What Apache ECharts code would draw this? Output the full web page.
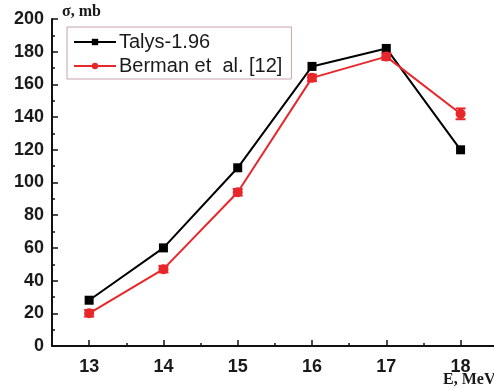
<!DOCTYPE html>
<html>
<head>
<meta charset="utf-8">
<script src="https://cdn.jsdelivr.net/npm/echarts@6/dist/echarts.min.js"></script>
<style>html,body{margin:0;padding:0;background:#fff}#c{width:494px;height:389px}</style>
</head>
<body>
<div id="c"></div>
<script>
var energies = [13, 14, 15, 16, 17, 18];
var talys = [28, 60, 109, 171, 182, 120];
var berman = [20, 47, 94, 164, 177, 142];
var bermanErr = [2, 2, 2, 2, 2, 3.3];
var xMajorTicks = [13, 14, 15, 16, 17, 18];
var xMinorTicks = [13.5, 14.5, 15.5, 16.5, 17.5];

var chart = echarts.init(document.getElementById('c'));
var axisCol = '#111';
var labelFont = {fontFamily: 'Liberation Sans, Arial', fontWeight: 'bold', fontSize: 18, color: '#1a1a1a'};

chart.setOption({
  animation: false,
  grid: {left: 52, right: 0, top: 19, bottom: 43},
  xAxis: [{
    type: 'value', min: 12.5, max: 18.45,
    axisLine: {lineStyle: {color: axisCol, width: 2}},
    axisTick: {inside: true, length: 6, customValues: xMajorTicks, lineStyle: {color: axisCol, width: 1.5}},
    axisLabel: Object.assign({margin: 12, customValues: xMajorTicks}, labelFont),
    splitLine: {show: false}
  }, {
    type: 'value', min: 12.5, max: 18.45, position: 'bottom',
    axisLine: {show: false},
    axisTick: {inside: true, length: 3, customValues: xMinorTicks, lineStyle: {color: axisCol, width: 1.5}},
    axisLabel: {show: false},
    splitLine: {show: false}
  }],
  yAxis: {
    type: 'value', min: 0, max: 200, interval: 20,
    axisLine: {show: true, lineStyle: {color: axisCol, width: 2}},
    axisTick: {show: true, inside: true, length: 6, lineStyle: {color: axisCol, width: 1.5}},
    minorTick: {show: true, splitNumber: 2, length: 3, lineStyle: {color: axisCol, width: 1.5}},
    axisLabel: Object.assign({margin: 8}, labelFont),
    splitLine: {show: false}
  },
  legend: {
    left: 67, top: 27,
    orient: 'vertical',
    padding: [5, 9, 3, 6],
    itemGap: 4,
    itemWidth: 42, itemHeight: 8,
    borderColor: '#c9a3aa', borderWidth: 1,
    textStyle: {fontFamily: 'Liberation Sans, Arial', fontSize: 20, color: '#1a1a1a', padding: [0, 0, 0, -2]},
    data: ['Talys-1.96', 'Berman et  al. [12]']
  },
  graphic: [
    {type: 'text', left: 62, top: 4, style: {text: 'σ, mb', font: 'bold 16px "Liberation Serif", serif', fill: '#1a1a1a'}},
    {type: 'text', left: 443, top: 372, style: {text: 'E, MeV', font: 'bold 16px "Liberation Serif", serif', fill: '#1a1a1a'}}
  ],
  series: [
    {
      name: 'Talys-1.96', type: 'line',
      data: energies.map(function (e, i) { return [e, talys[i]]; }),
      symbol: 'rect', symbolSize: 9,
      lineStyle: {color: '#000', width: 2},
      itemStyle: {color: '#000'},
      z: 3
    },
    {
      name: 'Berman et  al. [12]', type: 'line',
      data: energies.map(function (e, i) { return [e, berman[i]]; }),
      symbol: 'circle', symbolSize: 10,
      lineStyle: {color: '#e8272b', width: 2},
      itemStyle: {color: '#e8272b'},
      z: 4
    },
    {
      name: 'err', type: 'custom',
      data: energies.map(function (e, i) { return [e, berman[i] - bermanErr[i], berman[i] + bermanErr[i]]; }),
      renderItem: function (params, api) {
        var lo = api.coord([api.value(0), api.value(1)]);
        var hi = api.coord([api.value(0), api.value(2)]);
        var w = 5;
        var st = {stroke: '#e8272b', lineWidth: 2};
        return {type: 'group', children: [
          {type: 'line', shape: {x1: lo[0], y1: lo[1], x2: hi[0], y2: hi[1]}, style: st},
          {type: 'line', shape: {x1: lo[0] - w, y1: lo[1], x2: lo[0] + w, y2: lo[1]}, style: st},
          {type: 'line', shape: {x1: hi[0] - w, y1: hi[1], x2: hi[0] + w, y2: hi[1]}, style: st}
        ]};
      },
      z: 5
    }
  ]
});
</script>
</body>
</html>
